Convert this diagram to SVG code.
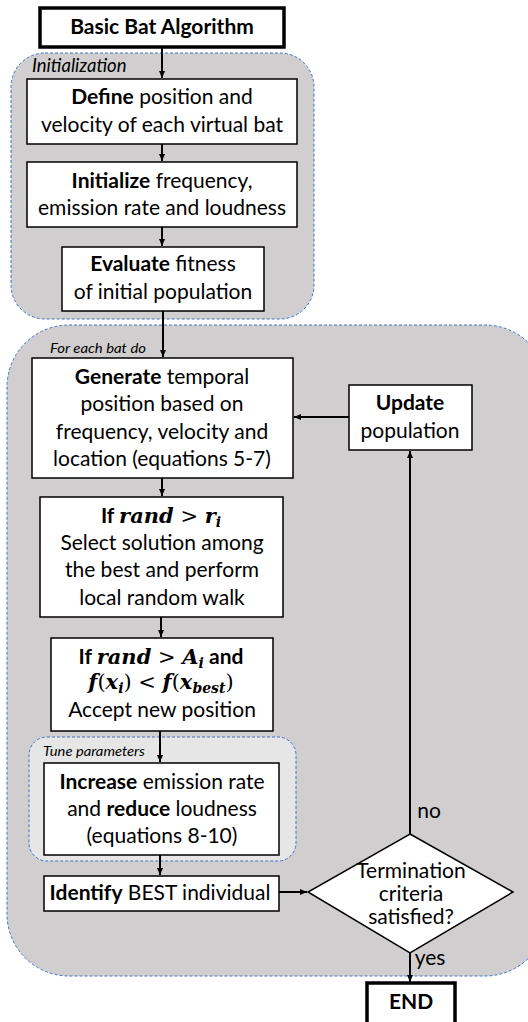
<svg xmlns="http://www.w3.org/2000/svg" width="528" height="1022" viewBox="0 0 528 1022">
<defs>
<marker id="ah" markerWidth="8" markerHeight="8" refX="7" refY="4" orient="auto" markerUnits="userSpaceOnUse">
<path d="M0,1 L7,4 L0,7 Z" fill="#000"/>
</marker>
<style>
.grp{fill:#d0cece;stroke:#4472c4;stroke-width:1;stroke-dasharray:3 2}
.grp2{fill:#e7e6e6;stroke:#4472c4;stroke-width:1;stroke-dasharray:3 2}
.box{fill:#fff;stroke:#000;stroke-width:1.5}
.tbox{fill:#fff;stroke:#000;stroke-width:3.5}
.t{font-family:Lato,"Liberation Sans",sans-serif;font-size:21px;fill:#000;text-anchor:middle}
.b{font-weight:bold}
.gl{font-family:Lato,"Liberation Sans",sans-serif;font-style:italic;fill:#000}
.m{font-family:"DejaVu Serif","Liberation Serif",serif;font-style:italic;font-weight:bold}
.mo{font-family:"DejaVu Serif","Liberation Serif",serif;font-style:normal;font-weight:normal}
.c{fill:none;stroke:#000;stroke-width:2;marker-end:url(#ah)}
</style>
</defs>
<g id="grp-init">
<rect class="grp" x="11" y="53" width="303" height="266" rx="34"/>
<text class="gl" x="32" y="72" font-size="18.5">Initialization</text>
</g>
<g id="grp-loop">
<rect class="grp" x="7" y="325" width="540" height="651" rx="62"/>
<text class="gl" x="50" y="353" font-size="13" textLength="96" lengthAdjust="spacingAndGlyphs">For each bat do</text>
</g>
<g id="grp-tune">
<rect class="grp2" x="29" y="737" width="267" height="124" rx="18"/>
<text class="gl" x="43" y="756" font-size="13" textLength="102" lengthAdjust="spacingAndGlyphs">Tune parameters</text>
</g>
<g id="n-start">
<rect class="tbox" x="40" y="8" width="244" height="39"/>
<text class="t b" x="162" y="34">Basic Bat Algorithm</text>
</g>
<g id="n-define">
<rect class="box" x="27" y="79" width="270" height="65"/>
<text class="t" x="162" y="104"><tspan class="b">Define</tspan> position and</text>
<text class="t" x="162" y="132">velocity of each virtual bat</text>
</g>
<g id="n-initialize">
<rect class="box" x="27" y="162" width="270" height="65"/>
<text class="t" x="162" y="188"><tspan class="b">Initialize</tspan> frequency,</text>
<text class="t" x="162" y="215">emission rate and loudness</text>
</g>
<g id="n-evaluate">
<rect class="box" x="62" y="247" width="202" height="64"/>
<text class="t" x="163" y="271"><tspan class="b">Evaluate</tspan> fitness</text>
<text class="t" x="163" y="299">of initial population</text>
</g>
<g id="n-generate">
<rect class="box" x="32" y="358" width="261" height="120"/>
<text class="t" x="162" y="384"><tspan class="b">Generate</tspan> temporal</text>
<text class="t" x="162" y="411">position based on</text>
<text class="t" x="162" y="439">frequency, velocity and</text>
<text class="t" x="162" y="466">location (equations 5-7)</text>
</g>
<g id="n-update">
<rect class="box" x="349" y="385" width="123" height="65"/>
<text class="t b" x="410" y="410">Update</text>
<text class="t" x="410" y="438">population</text>
</g>
<g id="n-localwalk">
<rect class="box" x="40" y="497" width="243" height="120"/>
<text class="t" x="161" y="523"><tspan class="b">If </tspan><tspan class="m" font-size="21">rand</tspan><tspan class="mo" font-size="21"> &gt; </tspan><tspan class="m" font-size="21">r</tspan><tspan class="m" font-size="14" dy="4">i</tspan></text>
<text class="t" x="162" y="550">Select solution among</text>
<text class="t" x="162" y="577">the best and perform</text>
<text class="t" x="162" y="605">local random walk</text>
</g>
<g id="n-accept">
<rect class="box" x="51" y="638" width="222" height="93"/>
<text class="t" x="161" y="664"><tspan class="b">If </tspan><tspan class="m" font-size="21">rand</tspan><tspan class="mo" font-size="21"> &gt; </tspan><tspan class="m" font-size="21">A</tspan><tspan class="m" font-size="14" dy="4">i</tspan><tspan class="b" dy="-4">  and</tspan></text>
<text class="t" x="161" y="689"><tspan class="m" font-size="21">f</tspan><tspan class="mo" font-size="21">(</tspan><tspan class="m" font-size="21">x</tspan><tspan class="m" font-size="14" dy="4">i</tspan><tspan class="mo" font-size="21" dy="-4">) &lt; </tspan><tspan class="m" font-size="21">f</tspan><tspan class="mo" font-size="21">(</tspan><tspan class="m" font-size="21">x</tspan><tspan class="m" font-size="14" dy="4">best</tspan><tspan class="mo" font-size="21" dy="-4">)</tspan></text>
<text class="t" x="162" y="717">Accept new position</text>
</g>
<g id="n-increase">
<rect class="box" x="44" y="763" width="235" height="92"/>
<text class="t" x="162" y="789"><tspan class="b">Increase</tspan> emission rate</text>
<text class="t" x="162" y="816">and <tspan class="b">reduce</tspan> loudness</text>
<text class="t" x="162" y="843">(equations 8-10)</text>
</g>
<g id="n-identify">
<rect class="box" x="44" y="876" width="235" height="35"/>
<text class="t" x="160" y="900"><tspan class="b">Identify</tspan> BEST individual</text>
</g>
<g id="n-decision">
<polygon points="410,834 513,892 410,953 308,892" fill="#fff" stroke="#000" stroke-width="1.5"/>
<text class="t" x="411" y="878" font-size="18">Termination</text>
<text class="t" x="411" y="901" font-size="18">criteria</text>
<text class="t" x="411" y="924" font-size="18">satisfied?</text>
</g>
<g id="n-end">
<rect class="tbox" x="367" y="983" width="88" height="45"/>
<text class="t b" x="411" y="1009">END</text>
</g>
<g id="connectors">
<line class="c" x1="162" y1="47" x2="162" y2="78"/>
<line class="c" x1="162" y1="144" x2="162" y2="161"/>
<line class="c" x1="162" y1="227" x2="162" y2="246"/>
<line class="c" x1="163" y1="311" x2="163" y2="357"/>
<line class="c" x1="349" y1="417" x2="294" y2="417"/>
<line class="c" x1="162" y1="478" x2="162" y2="496"/>
<line class="c" x1="161" y1="617" x2="161" y2="637"/>
<line class="c" x1="160" y1="731" x2="160" y2="762"/>
<line class="c" x1="160" y1="855" x2="160" y2="875"/>
<line class="c" x1="279" y1="892" x2="307" y2="892"/>
<line class="c" x1="410" y1="834" x2="410" y2="451"/>
<line class="c" x1="410" y1="953" x2="410" y2="982"/>
<text class="t" x="429" y="818" font-size="18">no</text>
<text class="t" x="430" y="965" font-size="18">yes</text>
</g>
</svg>
